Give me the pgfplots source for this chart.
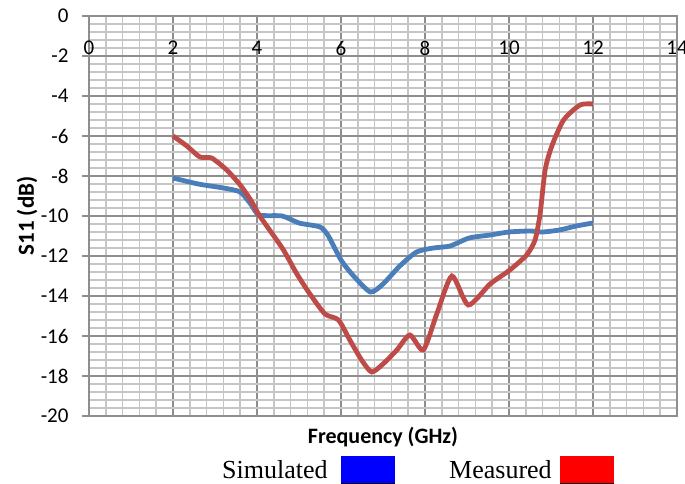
\documentclass[border=0pt]{standalone}
\usepackage{pgfplots}
\pgfplotsset{compat=1.18}
\usepackage{fontspec}
\setmainfont{Carlito}
\newfontfamily\timesfont{Liberation Serif}
\definecolor{simblue}{HTML}{4A7EBB}
\definecolor{measred}{HTML}{BE4B48}
\definecolor{majgrid}{HTML}{8E8E8E}
\definecolor{mingrid}{HTML}{C6C6C6}
\begin{document}
\begin{tikzpicture}
\useasboundingbox (-89pt,-68pt) rectangle (596pt,416pt);
\begin{axis}[
  at={(0pt,0pt)}, anchor=south west,
  scale only axis, width=588pt, height=400pt,
  xmin=0, xmax=14, ymin=-20, ymax=0,
  xtick={0,2,...,14}, ytick={-20,-18,...,0},
  minor x tick num=4, minor y tick num=4,
  grid=both,
  major grid style={majgrid, line width=1.5pt},
  minor grid style={mingrid, line width=1.5pt},
  axis line style={majgrid, line width=1.5pt},
  xtick style={draw=none},
  minor tick style={draw=none},
  ytick style={majgrid, line width=1.2pt},
  ytick pos=left,
  tick align=outside, major tick length=7pt,
  xticklabel pos=upper,
  xticklabel style={anchor=center, yshift=-39pt},
  yticklabel style={xshift=-10pt},
  /pgf/number format/assume math mode=true,
  ticklabel style={font=\fontsize{21}{24}\selectfont},
  xlabel={Frequency (GHz)},
  ylabel={S11 (dB)},
  xlabel style={at={(rel axis cs:0.5,0)}, anchor=center, yshift=-21pt, font=\bfseries\fontsize{22}{25}\selectfont},
  ylabel style={at={(rel axis cs:0,0.5)}, anchor=center, yshift=62pt, font=\bfseries\fontsize{23}{26}\selectfont},
]
\addplot[simblue, line width=4.8pt, smooth, tension=0.4] coordinates {
(2,-8.1)(2.6,-8.4)(3.2,-8.6)(3.6,-8.8)(3.85,-9.4)(4.05,-9.95)(4.6,-10.0)(5.0,-10.35)(5.5,-10.55)(5.7,-11.0)(6.0,-12.2)(6.3,-13.0)(6.7,-13.8)(7.0,-13.4)(7.4,-12.5)(7.8,-11.8)(8.2,-11.6)(8.6,-11.5)(9.05,-11.1)(9.55,-10.95)(10.0,-10.8)(10.5,-10.75)(10.8,-10.8)(11.2,-10.7)(11.6,-10.5)(12,-10.35)
};
\addplot[measred, line width=4.8pt, smooth, tension=0.4] coordinates {
(2,-6.0)(2.33,-6.5)(2.64,-7.05)(2.92,-7.1)(3.28,-7.7)(3.6,-8.45)(3.85,-9.2)(4.05,-9.95)(4.3,-10.7)(4.63,-11.7)(4.95,-12.9)(5.26,-13.9)(5.62,-14.9)(5.94,-15.2)(6.21,-16.2)(6.49,-17.2)(6.73,-17.8)(7.0,-17.4)(7.33,-16.7)(7.64,-15.95)(7.96,-16.7)(8.28,-14.9)(8.64,-13.0)(9.03,-14.45)(9.55,-13.4)(10.02,-12.7)(10.42,-11.95)(10.62,-11.2)(10.74,-9.9)(10.86,-7.7)(11.02,-6.5)(11.3,-5.2)(11.69,-4.45)(12,-4.4)
};
\end{axis}
\node[anchor=base west, inner sep=0, font=\timesfont\fontsize{26}{30}\selectfont] at (133pt,-63pt) {Simulated};
\fill[blue] (252pt,-67pt) rectangle (306pt,-40pt);
\draw[black, line width=0.8pt] (252pt,-67pt) -- (306pt,-67pt);
\node[anchor=base west, inner sep=0, font=\timesfont\fontsize{26}{30}\selectfont] at (360pt,-63pt) {Measured};
\fill[red] (471pt,-67pt) rectangle (525pt,-40pt);
\draw[black, line width=0.8pt] (471pt,-67pt) -- (525pt,-67pt);
\end{tikzpicture}
\end{document}
